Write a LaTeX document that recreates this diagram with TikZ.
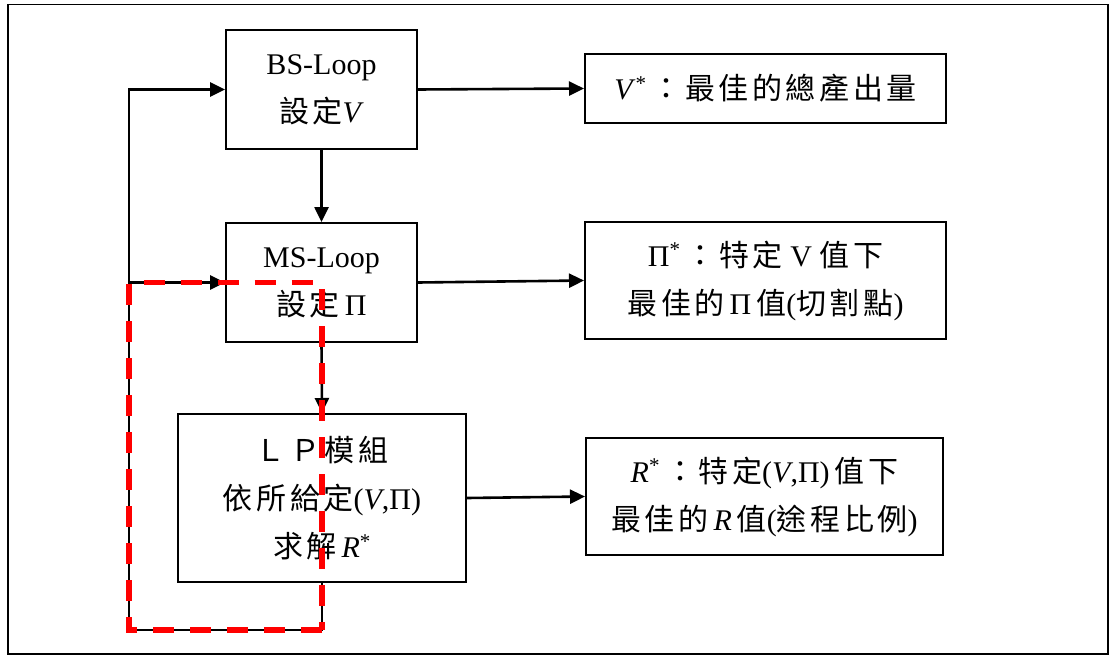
\documentclass[tikz,border=0pt]{standalone}
\usepackage{fontspec}
\setmainfont{Liberation Serif}
\newfontfamily\cjk[LetterSpace=12]{Noto Sans CJK TC}
\usetikzlibrary{arrows.meta}
\tikzset{
  box/.style={draw, line width=2pt, align=center, inner sep=0pt,
    font=\fontsize{30}{48}\selectfont},
  arr/.style={line width=2.6pt, -{Triangle[length=15pt,width=14pt]}},
  reddash/.style={draw=red, line width=5.5pt, dash pattern=on 21pt off 16pt},
}
\begin{document}
\begin{tikzpicture}[x=1pt,y=-1pt]
\useasboundingbox (0,0) rectangle (1110,655);
\draw[line width=1.6pt] (8,4.5) rectangle (1108,654);
\node[box, minimum width=191pt, minimum height=119pt] (bs) at (321.5,89.5)
  {BS-Loop\\{\cjk 設定}\textit{V}};
\node[box, minimum width=191pt, minimum height=119pt] (ms) at (321.5,282.5)
  {MS-Loop\\{\cjk 設定}\,Π};
\node[box, minimum width=288pt, minimum height=168pt] (lp) at (322,498)
  {{\cjk Ｌ\,Ｐ模組}\\{\cjk 依所給定}(\textit{V},Π)\\{\cjk 求解}\,\textit{R}\textsuperscript{*}};
\node[box, minimum width=361pt, minimum height=69pt] (vs) at (765.5,88.5)
  {\textit{V}\textsuperscript{*}\,{\cjk ：最佳的總產出量}};
\node[box, minimum width=361pt, minimum height=117pt] (ps) at (765.5,280.5)
  {Π\textsuperscript{*}\,{\cjk ：特定} V {\cjk 值下}\\{\cjk 最佳的}\,Π\,{\cjk 值}({\cjk 切割點})};
\node[box, minimum width=357pt, minimum height=117pt] (rs) at (764.5,496.5)
  {\textit{R}\textsuperscript{*}\,{\cjk ：特定}(\textit{V},Π)\,{\cjk 值下}\\{\cjk 最佳的}\,\textit{R}\,{\cjk 值}({\cjk 途程比例})};
\coordinate (bl) at (129,630);
\coordinate (br) at (lp.south |- bl);
\coordinate (tl) at (bl |- ms.west);
\draw[arr] (bs.east) -- (vs.west);
\draw[arr] (ms.east) -- (ps.west);
\draw[arr] (lp.east) -- (rs.west);
\draw[arr] (bs.south) -- (ms.north);
\draw[arr] (ms.south) -- (lp.north);
\draw[arr] (lp.south) -- (br) -- (bl) |- (bs.west);
\draw[arr] (tl) -- (ms.west);
\draw[reddash] (br) -- (bl) -- (tl) -- (tl -| br) -- cycle;
\end{tikzpicture}
\end{document}
